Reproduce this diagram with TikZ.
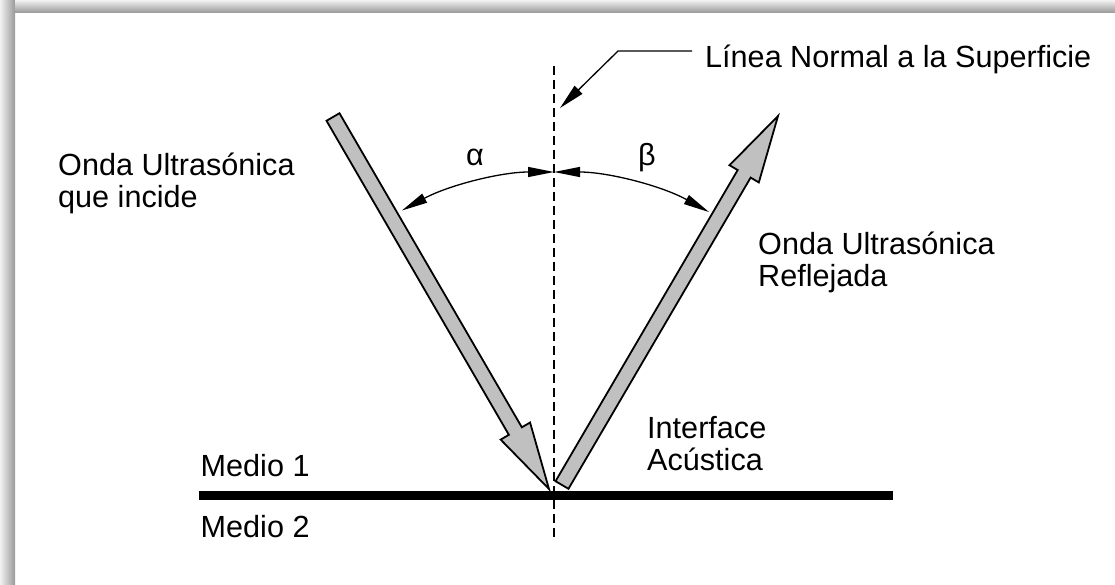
\documentclass[tikz,border=0pt]{standalone}
\usepackage{fontspec}
\setmainfont{Liberation Sans}
\usetikzlibrary{arrows.meta,calc}
\definecolor{wavegray}{HTML}{C0C0C0}
\begin{document}
\begin{tikzpicture}[
  x=1pt, y=-1pt,
  every node/.style={font=\fontsize{30.6}{32}\selectfont, inner sep=0pt, align=left},
  caption/.style={anchor=base west},
  wave/.style={draw=black, fill=wavegray, line width=1.8pt, line join=miter},
  anglearrow/.style={line width=1.3pt, {Triangle[length=26pt,width=10pt]}-{Triangle[length=26pt,width=10pt]}},
  normalline/.style={line width=1.3pt, dash pattern=on 9pt off 5pt},
  leader/.style={line width=1.3pt, -{Triangle[length=26pt,width=11pt]}}
]
\useasboundingbox (0,0) rectangle (1115,584);
% frame shadow
\shade[left color=black!5, right color=black!40] (0,0) rectangle (15,584);
\shade[top color=black!5, bottom color=black!38] (15,0) rectangle (1115,12);

\coordinate (O) at (554,492);
\coordinate (inctail) at (333,117);
\coordinate (inctip) at (549,489);
\coordinate (reftail) at (562,485);
\coordinate (reftip) at (778,116);

% surface and normal
\draw[line width=9.5pt] (199,495.5) coordinate (surfleft) -- (893,495.5) coordinate (surfright);
\draw[normalline] (554,66) coordinate (normaltop) -- (554,538) coordinate (normalbot);

% incident and reflected waves
\foreach \tl/\tp in {inctail/inctip, reftail/reftip} {
  \coordinate (h) at ($(\tp)!67pt!(\tl)$);
  \draw[wave] ($(\tl)!7.5pt!90:(\tp)$) -- ($(h)!7.5pt!90:(\tp)$) -- ($(h)!17pt!90:(\tp)$)
    -- (\tp) -- ($(h)!17pt!-90:(\tp)$) -- ($(h)!7.5pt!-90:(\tp)$) -- ($(\tl)!7.5pt!-90:(\tp)$) -- cycle;
}

% angles
\draw[anglearrow] ($(O)+(-118.4:320)$) arc[start angle=-118.4, end angle=-90, radius=320];
\draw[anglearrow] ($(O)+(-90:320)$) arc[start angle=-90, end angle=-61, radius=320];
\node[anchor=base] (alpha) at (475,165) {α};
\node[anchor=base] (beta) at (647,165) {β};

% labels
\node[caption] (normal) at (705,67.7) {Línea Normal a la Superficie};
\coordinate (leaderstart) at (692,51);
\coordinate (leaderknee) at (618,51);
\coordinate (leadertip) at (560,108);
\draw[leader] (leaderstart) -- (leaderknee) -- (leadertip);

\node[caption] (incident) at (58,207) {Onda Ultrasónica\\que incide};
\node[caption] (reflected) at (758,286) {Onda Ultrasónica\\Reflejada};
\node[caption] (interface) at (647,470.5) {Interface\\Acústica};
\node[caption] (medio1) at (200.5,476) {Medio 1};
\node[caption] (medio2) at (200.5,537.5) {Medio 2};
\end{tikzpicture}
\end{document}
